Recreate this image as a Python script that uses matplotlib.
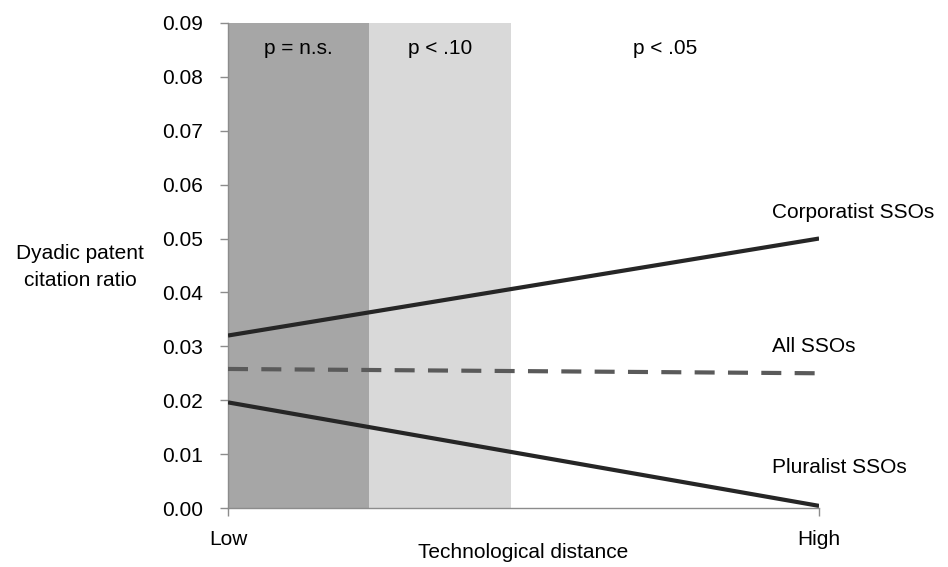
import numpy as np
import matplotlib.pyplot as plt

# x positions: 0 = Low, 1 = High technological distance
x_pos = [0.0, 1.0]
x_labels = ["Low", "High"]

corporatist = [0.032, 0.050]
all_ssos = [0.0258, 0.0250]
pluralist = [0.0196, 0.0004]

# significance regions along the x axis
region_edges = [0.0, 0.239, 0.479, 1.0]
region_labels = ["p = n.s.", "p < .10", "p < .05"]
region_colors = ["#a6a6a6", "#d9d9d9", "white"]

yticks = np.arange(0, 0.0901, 0.01)

plt.rcParams['font.family'] = ["Liberation Sans", "DejaVu Sans"]
plt.rcParams['font.size'] = 15

fig = plt.figure(figsize=(9.48, 5.67), dpi=100)
ax = fig.add_axes([0.2405, 0.104, 0.6235, 0.8556])

for i in range(3):
    ax.axvspan(region_edges[i], region_edges[i + 1], color=region_colors[i], lw=0, zorder=0)
    ax.text((region_edges[i] + region_edges[i + 1]) / 2, 0.0853, region_labels[i],
            ha="center", va="center")

ax.plot(x_pos, corporatist, "-", color="#262626", lw=3, solid_capstyle="butt", zorder=3)
ax.plot(x_pos, all_ssos, "--", color="#5a5a5a", lw=3, dashes=(4.8, 3.2), zorder=3)
ax.plot(x_pos, pluralist, "-", color="#262626", lw=3, solid_capstyle="butt", zorder=3)

ax.text(0.92, 0.0548, "Corporatist SSOs", ha="left", va="center", clip_on=False)
ax.text(0.92, 0.0300, "All SSOs", ha="left", va="center", clip_on=False)
ax.text(0.92, 0.0076, "Pluralist SSOs", ha="left", va="center", clip_on=False)

ax.set_xlim(0, 1)
ax.set_ylim(0, 0.09)
ax.set_yticks(yticks)
ax.set_yticklabels(["%.2f" % v for v in yticks])
ax.set_xticks(x_pos)
ax.set_xticklabels(x_labels)
ax.tick_params(axis="y", length=6, width=1, color="#8c8c8c", pad=12)
ax.tick_params(axis="x", length=6, width=1, color="#8c8c8c", pad=10)

for s in ["top", "right"]:
    ax.spines[s].set_visible(False)
for s in ["left", "bottom"]:
    ax.spines[s].set_color("#8c8c8c")
    ax.spines[s].set_linewidth(1)

fig.text(523 / 948, 1 - 553 / 567, "Technological distance", ha="center", va="center")
fig.text(80 / 948, 1 - 267 / 567, "Dyadic patent\ncitation ratio", ha="center", va="center",
         linespacing=1.5)

fig.savefig("out.png", dpi=100)
